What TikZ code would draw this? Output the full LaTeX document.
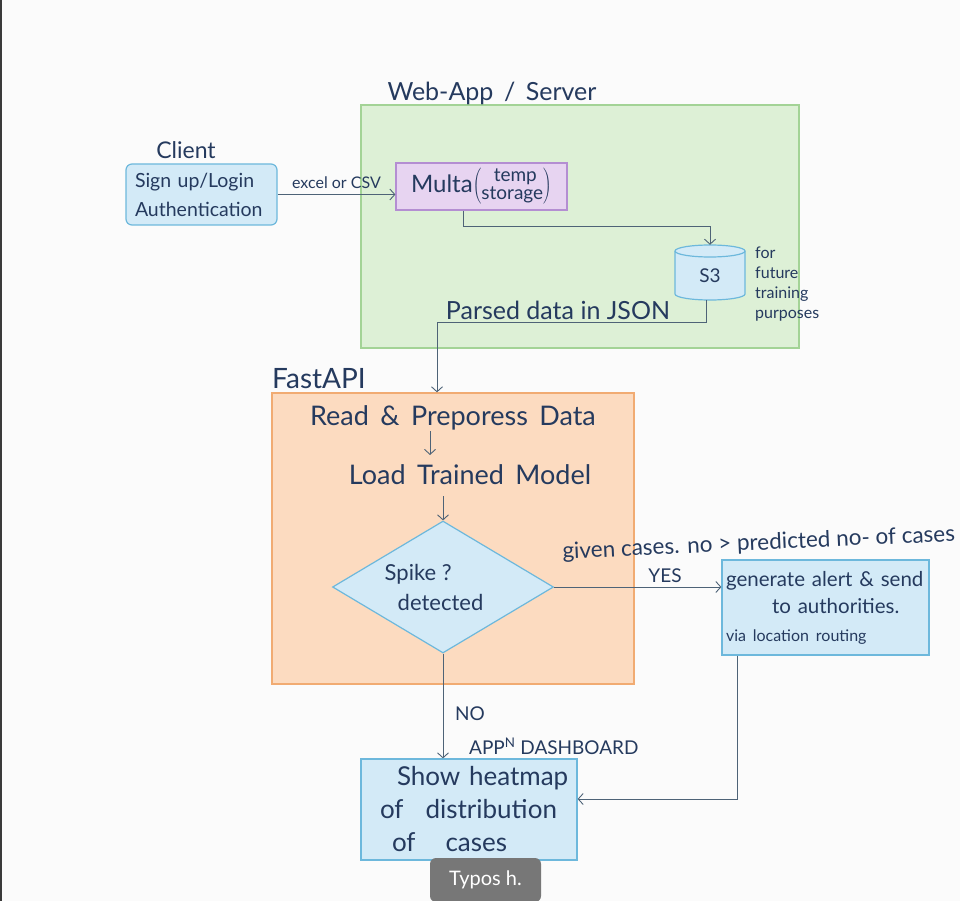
\documentclass[tikz,border=0pt]{standalone}
\usepackage{fontspec}
\setmainfont{Lato}
\usetikzlibrary{arrows.meta,shapes.geometric,calc}
\definecolor{bgc}{HTML}{FBFBFB}
\definecolor{txt}{HTML}{253A5E}
\definecolor{lnc}{HTML}{4E6377}
\definecolor{grnf}{HTML}{DDF0D6}
\definecolor{grnd}{HTML}{A3D396}
\definecolor{bluf}{HTML}{D3EAF7}
\definecolor{blud}{HTML}{6DB8DC}
\definecolor{purf}{HTML}{E7D4F1}
\definecolor{purd}{HTML}{B48ED2}
\definecolor{pchf}{HTML}{FCDBC0}
\definecolor{pchd}{HTML}{F1AB72}
\definecolor{tipf}{HTML}{777777}
\definecolor{edgec}{HTML}{3A3A3A}
\newcommand{\myfs}[2]{\fontsize{#1pt}{#2pt}\selectfont}
\begin{document}
\begin{tikzpicture}[x=1pt,y=-1pt,
  every node/.style={text=txt, inner sep=0pt},
  arr/.style={draw=lnc, line width=0.9pt, -{Straight Barb[length=5pt,width=11pt]}},
  ln/.style={draw=lnc, line width=0.9pt},
  bluebox/.style={draw=blud, fill=bluf, line width=1.2pt},
  grpgreen/.style={draw=grnd, fill=grnf, line width=1.3pt},
  grppeach/.style={draw=pchd, fill=pchf, line width=1.3pt},
  purbox/.style={draw=purd, fill=purf, line width=1.2pt}]
\useasboundingbox (0,0) rectangle (960,901);
\fill[bgc] (0,0) rectangle (960,901);
\fill[edgec] (0,0) rectangle (2,901);

% group boxes
\node[grpgreen, minimum width=438pt, minimum height=243pt] (web) at (580,226.5) {};
\node[anchor=base, font=\myfs{25}{28}] (weblbl) at (492,101) {Web-App \,/\, Server};
\node[grppeach, minimum width=362pt, minimum height=291pt] (fast) at (453,538.5) {};
\node[anchor=base, font=\myfs{28}{30}] (fastlbl) at (319,388) {FastAPI};

% client
\node[anchor=base, font=\myfs{23}{26}] (clientlbl) at (186,159) {Client};
\node[bluebox, rounded corners=6pt, minimum width=151pt, minimum height=61pt,
      text width=133pt, align=left, font=\myfs{19.5}{29}] (client) at (201.5,194.5)
      {Sign up/Login\\Authentication};

% multa
\node[purbox, minimum width=171pt, minimum height=47pt, font=\myfs{24}{26}] (multa) at (481.5,186.5)
  {Multa$\left(\vcenter{\hbox{\myfs{19}{16}\begin{tabular}{@{}c@{}}\hspace*{6pt}temp\\storage\end{tabular}}}\right)$};

% S3 cylinder
\node[minimum width=70pt, minimum height=55pt] (s3) at (710,272.5) {};
\filldraw[draw=blud, fill=bluf, line width=1.2pt]
  (675,251) -- (675,294) arc[start angle=180, end angle=360, x radius=35pt, y radius=6pt]
  -- (745,251) arc[start angle=0, end angle=180, x radius=35pt, y radius=6pt] -- cycle;
\draw[blud, line width=1.2pt] (675,251) arc[start angle=180, end angle=360, x radius=35pt, y radius=6pt];
\node[font=\myfs{19}{20}] (s3txt) at (710,276) {S3};
\node[anchor=north west, align=left, font=\myfs{16}{20}] (future) at (755,247)
  {for\\future\\training\\purposes};

% fastapi content
\node[anchor=base, font=\myfs{27}{30}] (read) at (453,425) {Read \,\&\, Preporess \,Data};
\node[anchor=base, font=\myfs{27}{30}] (load) at (470,484) {Load \,Trained \,Model};
\node[diamond, aspect=1.67, bluebox, minimum width=221pt, minimum height=132pt, align=left,
      font=\myfs{22}{30}] (spike) at (443,587) {Spike ?\\\hspace*{13pt}detected\hspace*{18pt}};

% alert
\node[bluebox, minimum width=207pt, minimum height=95pt, text width=199pt, align=left,
      font=\myfs{20.5}{27}] (alert) at (825.5,607.5)
  {generate alert \& send\\\hspace*{46pt}to authorities.\\[1pt]{\myfs{16}{17}via location routing}};

% heatmap
\node[bluebox, minimum width=216pt, minimum height=101pt, text width=206pt, align=left,
      font=\myfs{26}{33}] (heat) at (469,809.5)
      {\hspace*{31pt}Show heatmap\\\hspace*{14pt}of\hspace{22pt}distribution\\\hspace*{26pt}of\hspace{30pt}cases};

% connectors
\draw[arr] (client.east) -- (client.east -| multa.west)
  node[midway, above=5pt, font=\myfs{16}{18}] (csv) {excel or CSV};
\coordinate (c1) at (463,226);
\draw[arr] (multa.south -| c1) -- (c1) -| (s3.north);
\coordinate (c2) at (437,322);
\coordinate (c2b) at (706,322);
\draw[arr] (s3.south -| c2b) -- (c2b) -- (c2) -- (c2 |- fast.north);
\node[anchor=base, font=\myfs{25}{28}] (json) at (558,319) {Parsed data in JSON};
\coordinate (a1) at (430,431);
\coordinate (a2) at (443,496);
\draw[arr] (a1) -- ++(0,24);
\draw[arr] (a2) -- (a2 |- spike.north);
\draw[arr] (spike.east) -- (spike.east -| alert.west);
\node[anchor=base, font=\myfs{19}{20}] (yes) at (665,582) {YES};
\node[anchor=base, rotate=2.6, font=\myfs{22.5}{24}] (cond) at (759,550) {given cases. no > predicted no- of cases};
\draw[arr] (spike.south) -- (spike.south |- heat.north);
\node[anchor=base west, font=\myfs{19}{20}] (no) at (455,720) {NO};
\node[anchor=base west, font=\myfs{19}{20}] (dash) at (469,754) {APP\textsuperscript{N} DASHBOARD};
\coordinate (c3) at (737,799);
\draw[arr] (alert.south -| c3) -- (c3) -- (c3 -| heat.east);

% tooltip overlay
\node[fill=tipf, rounded corners=6pt, minimum width=111pt, minimum height=44pt,
      text=white, font=\myfs{20}{22}] (tip) at (485.5,880) {Typos h.};
\end{tikzpicture}
\end{document}
